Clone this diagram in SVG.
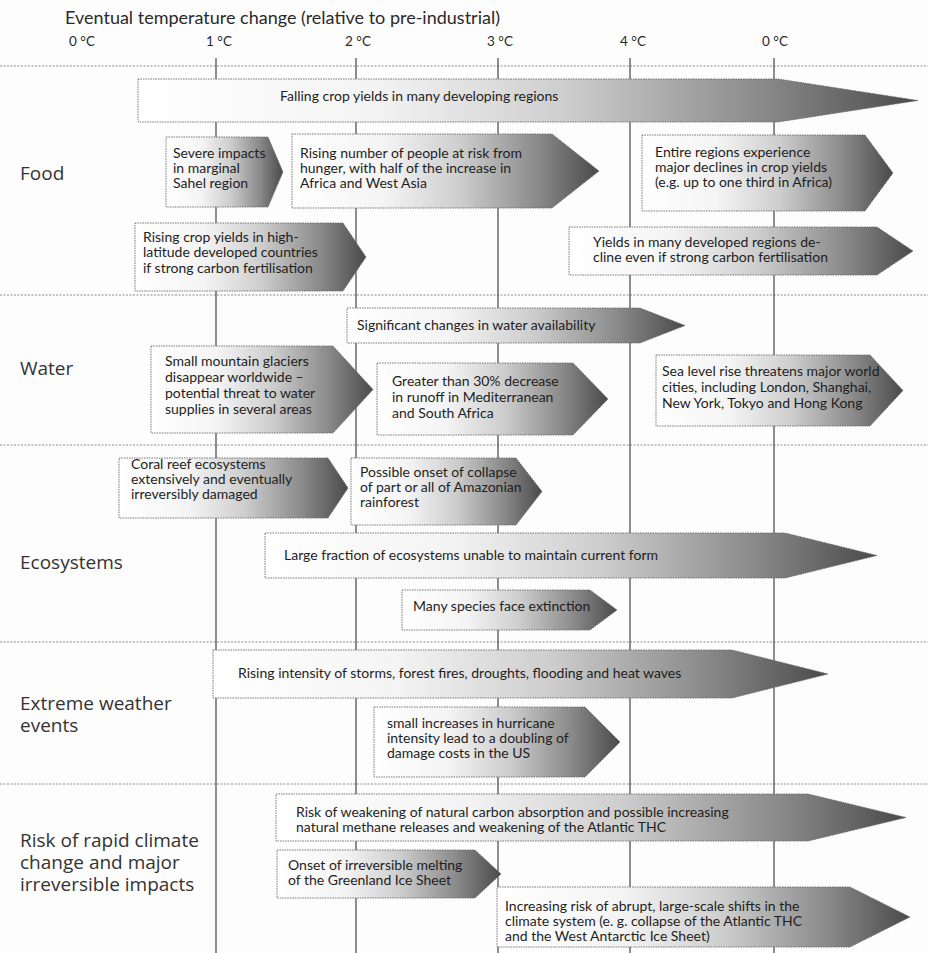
<svg xmlns="http://www.w3.org/2000/svg" width="928" height="953" viewBox="0 0 928 953">
<style>
.bg{fill:#fdfdfd}
.vl{stroke:#444;stroke-width:1.2}
.sep{stroke:#8a8a8a;stroke-width:1;stroke-dasharray:2 1.5}
.arr{fill:url(#g);stroke:#6a6a6a;stroke-width:0.9;stroke-dasharray:1.5 1}
.t{font-family:Lato,"Liberation Sans",sans-serif;font-size:14px;fill:#1e1e1e}
.lbl{font-family:"Open Sans","Liberation Sans",sans-serif;font-size:19px;fill:#333}
.title{font-family:Lato,"Liberation Sans",sans-serif;font-size:18px;fill:#2a2a2a}
.deg{font-family:Lato,"Liberation Sans",sans-serif;font-size:13.5px;fill:#2a2a2a;text-anchor:middle}
</style>
<defs>
<linearGradient id="g" x1="0" y1="0" x2="1" y2="0">
<stop offset="0" stop-color="#ffffff"/>
<stop offset="0.3" stop-color="#f4f4f4"/>
<stop offset="0.55" stop-color="#cdcdcd"/>
<stop offset="0.8" stop-color="#8a8a8a"/>
<stop offset="1" stop-color="#4a4a4a"/>
</linearGradient>
</defs>
<rect class="bg" x="0" y="0" width="928" height="953"/>
<g id="header">
<text class="title" x="65" y="24">Eventual temperature change (relative to pre-industrial)</text>
<text class="deg" x="82" y="46">0 °C</text>
<text class="deg" x="219" y="46">1 °C</text>
<text class="deg" x="358" y="46">2 °C</text>
<text class="deg" x="500" y="46">3 °C</text>
<text class="deg" x="633" y="46">4 °C</text>
<text class="deg" x="775" y="46">0 °C</text>
</g>
<g id="grid">
<line class="sep" x1="0" y1="66" x2="928" y2="66"/>
<line class="sep" x1="0" y1="295" x2="928" y2="295"/>
<line class="sep" x1="0" y1="445" x2="928" y2="445"/>
<line class="sep" x1="0" y1="642" x2="928" y2="642"/>
<line class="sep" x1="0" y1="784" x2="928" y2="784"/>
<line class="vl" x1="216" y1="58" x2="216" y2="953"/>
<line class="vl" x1="356" y1="58" x2="356" y2="953"/>
<line class="vl" x1="498" y1="58" x2="498" y2="953"/>
<line class="vl" x1="630" y1="58" x2="630" y2="953"/>
<line class="vl" x1="774" y1="58" x2="774" y2="953"/>
</g>
<g id="row-labels">
<text class="lbl" x="20" y="180">Food</text>
<text class="lbl" x="20" y="375">Water</text>
<text class="lbl" x="20" y="569">Ecosystems</text>
<text class="lbl" x="20" y="710">Extreme weather</text>
<text class="lbl" x="20" y="732">events</text>
<text class="lbl" x="20" y="847">Risk of rapid climate</text>
<text class="lbl" x="20" y="869">change and major</text>
<text class="lbl" x="20" y="891">irreversible impacts</text>
</g>
<g id="connectors"></g>
<g id="falling">
<polygon class="arr" points="138,79 778,79 918,100.5 778,122 138,122"/>
<text class="t" x="280" y="101">Falling crop yields in many developing regions</text>
</g>
<g id="severe">
<polygon class="arr" points="166,137 268,137 283,172 268,207 166,207"/>
<text class="t" x="173" y="158">Severe impacts</text>
<text class="t" x="173" y="173">in marginal</text>
<text class="t" x="173" y="188">Sahel region</text>
</g>
<g id="hunger">
<polygon class="arr" points="292,134 552,134 599,171 552,208 292,208"/>
<text class="t" x="300" y="158">Rising number of people at risk from</text>
<text class="t" x="300" y="173">hunger, with half of the increase in</text>
<text class="t" x="300" y="188">Africa and West Asia</text>
</g>
<g id="entire-regions">
<polygon class="arr" points="642,135 865,135 893,173 865,211 642,211"/>
<text class="t" x="655" y="157">Entire regions experience</text>
<text class="t" x="655" y="172">major declines in crop yields</text>
<text class="t" x="655" y="187">(e.g. up to one third in Africa)</text>
</g>
<g id="rising-yields">
<polygon class="arr" points="135,223 343,223 366,257 343,291 135,291"/>
<text class="t" x="143" y="242">Rising crop yields in high-</text>
<text class="t" x="143" y="257">latitude developed countries</text>
<text class="t" x="143" y="273">if strong carbon fertilisation</text>
</g>
<g id="yields-decline">
<polygon class="arr" points="569,227 877,227 913,251 877,275 569,275"/>
<text class="t" x="593" y="247">Yields in many developed regions de-</text>
<text class="t" x="593" y="262">cline even if strong carbon fertilisation</text>
</g>
<g id="water-availability">
<polygon class="arr" points="347,308 640,308 685,325.5 640,343 347,343"/>
<text class="t" x="357" y="330">Significant changes in water availability</text>
</g>
<g id="glaciers">
<polygon class="arr" points="151,346 333,346 373,389.5 333,433 151,433"/>
<text class="t" x="165" y="366">Small mountain glaciers</text>
<text class="t" x="165" y="382">disappear worldwide –</text>
<text class="t" x="165" y="398">potential threat to water</text>
<text class="t" x="165" y="414">supplies in several areas</text>
</g>
<g id="runoff">
<polygon class="arr" points="377,363 573,363 608,399 573,435 377,435"/>
<text class="t" x="392" y="386">Greater than 30% decrease</text>
<text class="t" x="392" y="402">in runoff in Mediterranean</text>
<text class="t" x="392" y="418">and South Africa</text>
</g>
<g id="sea-level">
<polygon class="arr" points="656,355 870,355 903,390.5 870,426 656,426"/>
<text class="t" x="662" y="376">Sea level rise threatens major world</text>
<text class="t" x="662" y="392">cities, including London, Shanghai,</text>
<text class="t" x="662" y="408">New York, Tokyo and Hong Kong</text>
</g>
<g id="coral">
<polygon class="arr" points="119,458 328,458 348,488 328,518 119,518"/>
<text class="t" x="131" y="469">Coral reef ecosystems</text>
<text class="t" x="131" y="484">extensively and eventually</text>
<text class="t" x="131" y="499">irreversibly damaged</text>
</g>
<g id="amazon">
<polygon class="arr" points="351,458 516,458 542,491.5 516,525 351,525"/>
<text class="t" x="360" y="477">Possible onset of collapse</text>
<text class="t" x="360" y="492">of part or all of Amazonian</text>
<text class="t" x="360" y="507">rainforest</text>
</g>
<g id="ecosystems-form">
<polygon class="arr" points="265,533 785,533 877,555.5 785,578 265,578"/>
<text class="t" x="284" y="560">Large fraction of ecosystems unable to maintain current form</text>
</g>
<g id="extinction">
<polygon class="arr" points="402,590 590,590 617,610 590,630 402,630"/>
<text class="t" x="413" y="611">Many species face extinction</text>
</g>
<g id="storms">
<polygon class="arr" points="213,650 732,650 828,674 732,698 213,698"/>
<text class="t" x="238" y="678">Rising intensity of storms, forest fires, droughts, flooding and heat waves</text>
</g>
<g id="hurricane">
<polygon class="arr" points="374,707 585,707 620,742 585,777 374,777"/>
<text class="t" x="387" y="728">small increases in hurricane</text>
<text class="t" x="387" y="743">intensity lead to a doubling of</text>
<text class="t" x="387" y="758">damage costs in the US</text>
</g>
<g id="carbon-absorption">
<polygon class="arr" points="276,794 808,794 906,817.5 808,841 276,841"/>
<text class="t" x="296" y="817">Risk of weakening of natural carbon absorption and possible increasing</text>
<text class="t" x="296" y="832">natural methane releases and weakening of the Atlantic THC</text>
</g>
<g id="greenland">
<polygon class="arr" points="277,850 475,850 501,874 475,898 277,898"/>
<text class="t" x="288" y="870">Onset of irreversible melting</text>
<text class="t" x="288" y="885">of the Greenland Ice Sheet</text>
</g>
<g id="abrupt">
<polygon class="arr" points="497,887 850,887 910,917 850,947 497,947"/>
<text class="t" x="505" y="911">Increasing risk of abrupt, large-scale shifts in the</text>
<text class="t" x="505" y="926">climate system (e. g. collapse of the Atlantic THC</text>
<text class="t" x="505" y="941">and the West Antarctic Ice Sheet)</text>
</g>
</svg>
